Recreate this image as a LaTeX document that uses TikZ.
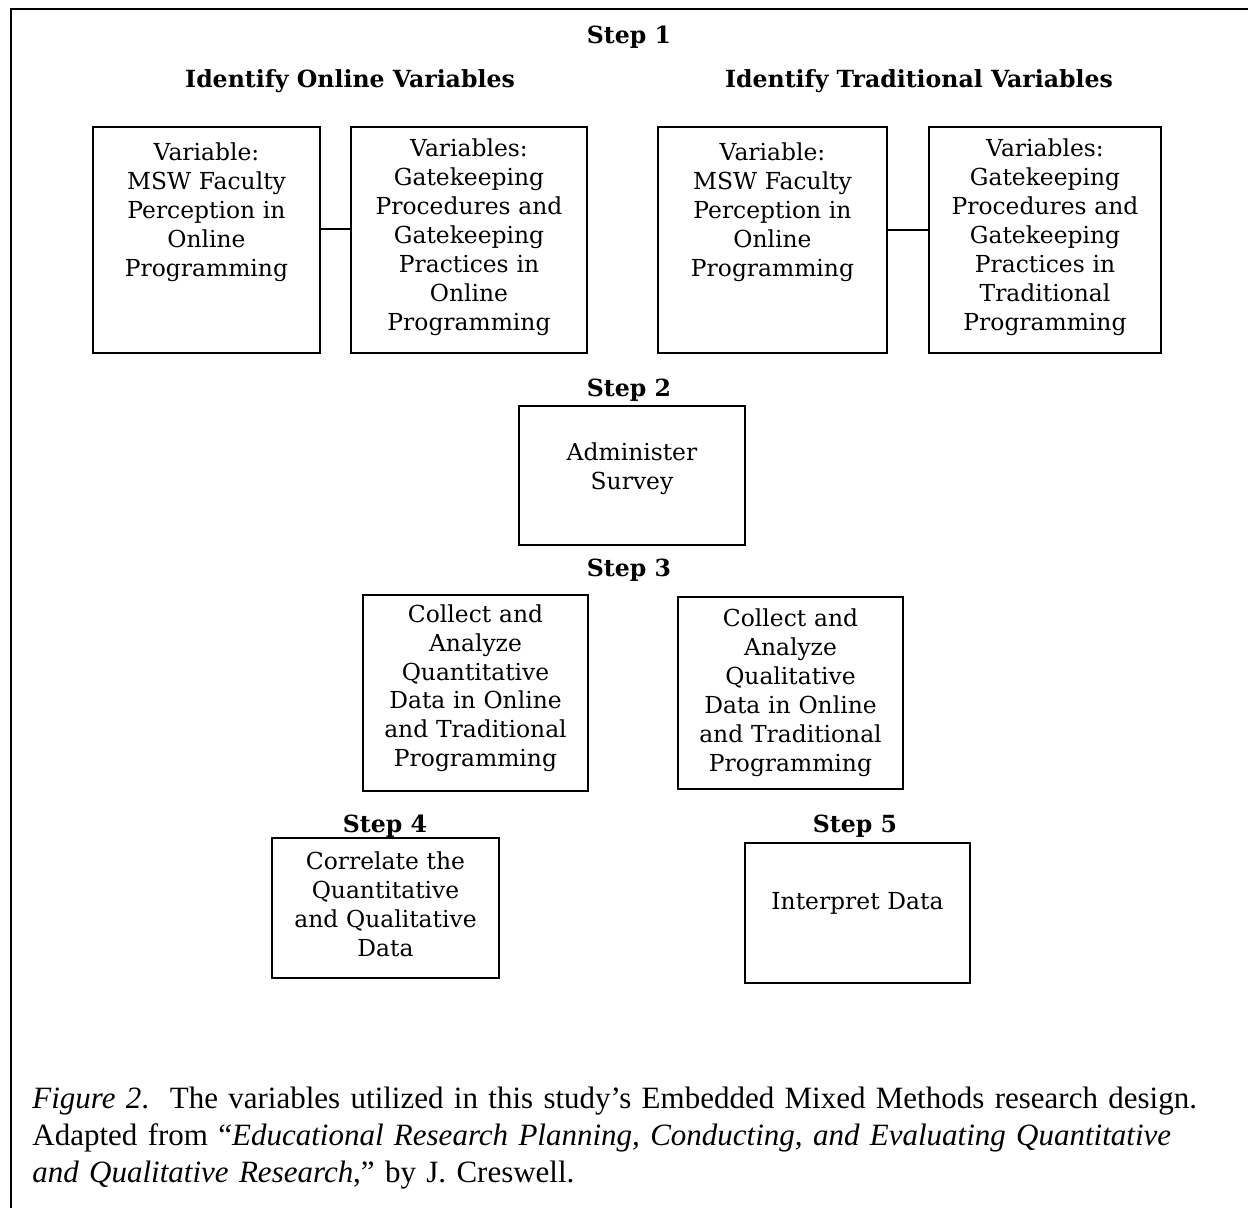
\documentclass[tikz,border=0pt]{standalone}
\usepackage{fontspec}
\setmainfont{Liberation Serif}
\newfontfamily\boxfont{DejaVu Serif}
\begin{document}
\begin{tikzpicture}[x=0.5pt,y=-0.5pt]
\tikzstyle{step label}=[font=\boxfont\bfseries\fontsize{11.8}{14}\selectfont,anchor=base,inner sep=0]
\tikzstyle{var box}=[draw,line width=1pt,anchor=north west,inner sep=0,align=center,font=\boxfont\fontsize{11.7}{14.5}\selectfont]
\tikzset{
	top box/.style={var box,text height=#1,text depth=113pt-#1},
	link/.style={line width=1pt}
}
\useasboundingbox (0,0) rectangle (1248,1208);
\draw[line width=0.8pt] (1248,9) -- (11,9) -- (11,1208);

\node[step label] (step1) at (629,44) {Step 1};
\node[step label] (online) at (350,88) {Identify Online Variables};
\node[step label] (trad) at (919,88) {Identify Traditional Variables};

\node[top box=17pt,text width=113.5pt] (onl perc) at (92,126)
	{Variable:\\ MSW Faculty\\ Perception in\\ Online\\ Programming};
\node[top box=15pt,text width=118pt] (onl gate) at (350,126)
	{Variables:\\ Gatekeeping\\ Procedures and\\ Gatekeeping\\ Practices in\\ Online\\ Programming};
\node[top box=17pt,text width=114.5pt] (trad perc) at (657,126)
	{Variable:\\ MSW Faculty\\ Perception in\\ Online\\ Programming};
\node[top box=15pt,text width=116pt] (trad gate) at (928,126)
	{Variables:\\ Gatekeeping\\ Procedures and\\ Gatekeeping\\ Practices in\\ Traditional\\ Programming};

\draw[link] ([yshift=5.5pt]onl perc.east) -- ([yshift=5.5pt]onl gate.west);
\draw[link] ([yshift=5pt]trad perc.east) -- ([yshift=5pt]trad gate.west);

\node[step label] (step2) at (629,397) {Step 2};
\node[var box,text width=113pt,text height=27.5pt,text depth=42pt] (survey) at (518,405)
	{Administer\\ Survey};

\node[step label] (step3) at (629,576) {Step 3};
\node[var box,text width=112.5pt,text height=13.5pt,text depth=84.5pt] (quant) at (362,594)
	{Collect and\\ Analyze\\ Quantitative\\ Data in Online\\ and Traditional\\ Programming};
\node[var box,text width=112.5pt,text height=14.5pt,text depth=81.5pt] (qual) at (677,596)
	{Collect and\\ Analyze\\ Qualitative\\ Data in Online\\ and Traditional\\ Programming};

\node[step label] (step4) at (385,832) {Step 4};
\node[var box,text width=113.5pt,text height=15.5pt,text depth=54.5pt] (correlate) at (271,837)
	{Correlate the\\ Quantitative\\ and Qualitative\\ Data};
\node[step label] (step5) at (855,832) {Step 5};
\node[var box,text width=112.5pt,text height=33pt,text depth=37pt] (interpret) at (744,842)
	{Interpret Data};

\node[anchor=base west,inner sep=0,text width=620pt,align=left,font=\fontsize{15.5}{18.5}\selectfont] (caption) at (32,1108)
	{\textit{Figure 2}.\ \ The variables utilized in this study’s Embedded Mixed Methods research design.\\
	Adapted from “\textit{Educational Research Planning, Conducting, and Evaluating Quantitative}\\
	\textit{and Qualitative Research},” by J. Creswell.};
\end{tikzpicture}
\end{document}
